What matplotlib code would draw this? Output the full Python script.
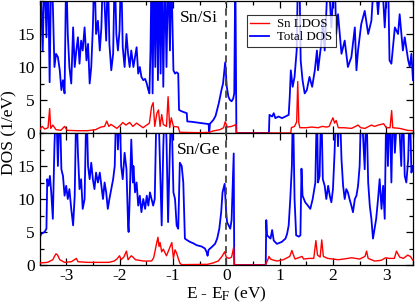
import matplotlib
matplotlib.use("Agg")
import matplotlib.pyplot as plt
from matplotlib.ticker import MultipleLocator
import numpy as np

# ---------------- data (E in eV, DOS in 1/eV); values > 20 are off-scale spikes
si_tot_E = [-3.50, -3.49, -3.48, -3.455, -3.44, -3.405, -3.37, -3.34, -3.31, -3.28, -3.25, -3.22,
            -3.19, -3.155, -3.12, -3.09, -3.06, -3.03, -3.00, -2.97, -2.94, -2.905, -2.87, -2.84,
            -2.81, -2.78, -2.75, -2.72, -2.69, -2.655, -2.62, -2.59, -2.56, -2.53, -2.50, -2.47,
            -2.44, -2.405, -2.37, -2.34, -2.31, -2.28, -2.25, -2.22, -2.19, -2.155, -2.12, -2.09,
            -2.06, -2.03, -2.00, -1.97, -1.94, -1.905, -1.87, -1.84, -1.81, -1.78, -1.74, -1.68,
            -1.65, -1.62, -1.59, -1.555, -1.52, -1.49, -1.46, -1.44, -1.42, -1.40, -1.38, -1.355,
            -1.33, -1.305, -1.28, -1.255, -1.23, -1.205, -1.18, -1.15, -1.12, -1.09, -1.055, -1.03,
            -0.99, -0.96, -0.93, -0.90, -0.885, -0.84, -0.775, -0.74, -0.73, -0.65, -0.555, -0.46,
            -0.37, -0.33, -0.32, -0.305, -0.24, -0.20, -0.14, -0.09, -0.06, -0.02, 0.01, 0.04,
            0.07, 0.10, 0.13, 0.15, 0.17, 0.19, 0.80, 0.81, 0.86, 0.89, 0.92, 0.98, 1.045, 1.11,
            1.17, 1.19, 1.21, 1.245, 1.28, 1.32, 1.345, 1.37, 1.395, 1.43, 1.47, 1.51, 1.56, 1.61,
            1.66, 1.70, 1.72, 1.78, 1.81, 1.845, 1.91, 1.97, 2.03, 2.06, 2.095, 2.16, 2.22, 2.28,
            2.345, 2.41, 2.44, 2.47, 2.53, 2.595, 2.66, 2.72, 2.78, 2.845, 2.91, 2.97, 3.03, 3.06,
            3.095, 3.16, 3.22, 3.25, 3.31, 3.345, 3.41, 3.44, 3.47, 3.50]
si_tot_D = [4.5, 10, 25, 17, 12.5, 25, 14.5, 25, 7.7, 25, 19.5, 10,
            12, 11.5, 9.5, 6.5, 8, 6, 25, 15, 10, 7.5, 16, 10,
            12.5, 14.5, 10.5, 14, 12.5, 16, 11, 13.5, 7.5, 10, 16, 25,
            15, 17, 12.5, 16, 25, 19.5, 14, 25, 13.5, 9.5, 12, 25,
            15, 12.5, 15.5, 25, 13, 10, 15, 12, 10, 12.5, 10, 13,
            9, 10, 8.5, 8, 8.2, 7.5, 6.5, 6, 12.5, 25, 6, 25,
            10, 25, 8, 25, 9, 25, 7, 25, 10, 25, 12.5, 25,
            9.5, 9, 9.2, 9, 3.5, 3.3, 3.1, 3.0, 1.75, 1.7, 1.6, 1.5,
            1.4, 1.35, 0, 1.4, 2.0, 2.6, 4.5, 6.5, 7.5, 10.7, 7, 5.5,
            5, 4.8, 5.2, 6, 25, 0, 0, 2.75, 2.5, 3, 2.25, 2.5, 2.25, 2.5,
            2.75, 5.5, 9.5, 7, 8.5, 12.5, 25, 25, 11, 8, 6, 6.5, 8.5, 7,
            9.5, 12.5, 9.5, 13.5, 17, 12.5, 25, 16, 25, 15, 18, 12, 14, 10,
            11.5, 16, 9.5, 12.5, 16.5, 18.5, 15, 17, 25, 18, 25, 16, 25, 11,
            10.5, 16, 15, 18, 12.5, 14.5, 11, 10, 12, 8]

si_sn_E = [-3.50, -3.45, -3.40, -3.34, -3.31, -3.29, -3.25, -3.19, -3.10, -3.03, -2.98, -2.80,
           -2.60, -2.45, -2.35, -2.28, -2.24, -2.20, -2.16, -2.05, -1.97, -1.94, -1.88, -1.81,
           -1.75, -1.68, -1.56, -1.44, -1.40, -1.37, -1.34, -1.30, -1.27, -1.24, -1.21, -1.18,
           -1.12, -1.09, -1.06, -1.03, -0.99, -0.90, -0.87, -0.50, -0.32, -0.25, -0.12, -0.05,
           -0.02, 0.02, 0.10, 0.16, 0.18, 0.19, 1.21, 1.22, 1.28, 1.32, 1.34, 1.36, 1.38, 1.50,
           1.60, 1.72, 1.80, 1.88, 1.93, 1.97, 2.00, 2.03, 2.06, 2.10, 2.20, 2.35, 2.47, 2.52,
           2.60, 2.72, 2.78, 2.85, 2.95, 3.00, 3.07, 3.10, 3.12, 3.25, 3.40, 3.50]
si_sn_D = [0.5, 1.0, 0.6, 0.8, 3.7, 0.7, 1.2, 0.5, 0.4, 1.0, 0.4, 0.35,
           0.35, 0.5, 0.9, 1.0, 1.8, 1.0, 1.3, 0.7, 1.3, 1.6, 1.2, 1.6,
           1.0, 1.5, 0.8, 1.5, 4.0, 4.6, 1.0, 3.0, 3.5, 1.0, 2.8, 1.3,
           1.0, 5.5, 0.8, 2.3, 1.0, 0.9, 0.1, 0.05, 0.1, 0.3, 0.5, 0.8,
           1.7, 0.9, 1.0, 1.2, 1.3, 0, 0, 0.8, 1.0, 1.7, 7.8, 1.5, 0.8, 0.8,
           0.9, 0.8, 1.0, 0.9, 1.0, 1.8, 2.3, 1.5, 1.9, 0.8, 0.8, 0.7, 1.2, 0.8,
           0.7, 1.2, 1.0, 1.2, 1.4, 0.8, 0.8, 3.4, 0.8, 0.7, 0.4, 0.35]

ge_tot_E = [-3.50, -3.47, -3.405, -3.37, -3.355, -3.33, -3.305, -3.28, -3.25, -3.22, -3.19, -3.155,
            -3.12, -3.09, -3.06, -3.03, -3.00, -2.97, -2.94, -2.905, -2.87, -2.84, -2.81, -2.78,
            -2.75, -2.72, -2.69, -2.655, -2.62, -2.59, -2.56, -2.53, -2.50, -2.47, -2.44, -2.405,
            -2.37, -2.34, -2.31, -2.28, -2.25, -2.22, -2.19, -2.155, -2.12, -2.09, -2.06, -2.03,
            -2.00, -1.97, -1.94, -1.905, -1.87, -1.84, -1.83, -1.81, -1.78, -1.75, -1.74, -1.71,
            -1.68, -1.65, -1.62, -1.59, -1.555, -1.52, -1.49, -1.46, -1.43, -1.40, -1.37, -1.34,
            -1.305, -1.275, -1.24, -1.21, -1.18, -1.15, -1.12, -1.09, -1.055, -1.03, -0.99, -0.96,
            -0.93, -0.90, -0.87, -0.835, -0.805, -0.775, -0.74, -0.68, -0.62, -0.555, -0.46, -0.40,
            -0.37, -0.35, -0.33, -0.275, -0.21, -0.17, -0.13, -0.095, -0.07, -0.03, -0.005, 0.015,
            0.045, 0.075, 0.10, 0.14, 0.15, 0.74, 0.75, 0.765, 0.83, 0.86, 0.89, 0.95, 1.04, 1.11,
            1.14, 1.17, 1.20, 1.23, 1.25, 1.28, 1.31, 1.36, 1.39, 1.41, 1.43, 1.48, 1.53, 1.575,
            1.62, 1.67, 1.70, 1.72, 1.75, 1.78, 1.81, 1.845, 1.875, 1.91, 1.94, 1.97, 2.00, 2.03,
            2.06, 2.095, 2.125, 2.16, 2.19, 2.22, 2.25, 2.28, 2.31, 2.345, 2.375, 2.41, 2.44, 2.47,
            2.50, 2.53, 2.595, 2.625, 2.66, 2.69, 2.72, 2.75, 2.78, 2.81, 2.845, 2.875, 2.91, 2.94,
            2.97, 3.00, 3.03, 3.06, 3.095, 3.125, 3.16, 3.22, 3.28, 3.31, 3.345, 3.375, 3.41, 3.44,
            3.47, 3.50]
ge_tot_D = [4, 4.7, 5, 5.5, 13, 12, 13.5, 11, 7, 18, 25, 15,
            25, 14.5, 13.5, 10.5, 12, 10, 11.5, 8.5, 6, 10.5, 25, 17,
            11.5, 13, 8.5, 10, 25, 15, 13, 15.5, 13, 11.5, 14, 12.5,
            14, 12, 10, 12.5, 11, 8.5, 10, 11.5, 13, 15, 25, 17.5,
            25, 15, 13, 17, 14.5, 6, 5, 10, 19, 12.5, 15, 11,
            12.5, 9, 10.5, 8, 10, 8.5, 10.5, 9, 11, 10, 9, 10,
            25, 25, 15, 6, 18, 25, 19, 6.5, 18, 25, 11, 10,
            6, 5.5, 15.5, 15, 12.5, 4, 3.8, 3.5, 3.3, 3.0, 2.8, 2.5,
            2.0, 1.4, 2.3, 2.7, 3.2, 4, 5.5, 8, 11, 12.3, 8.5, 6.5,
            6, 5.5, 6.8, 16.9, 0, 0, 6.8, 4.5, 4, 5.3, 3.7, 3.2, 3.5, 4,
            4.7, 6, 10, 15, 25, 10, 4.5, 4.3, 4.5, 14.6, 10.5, 9.5, 9, 8.5,
            10, 12.5, 25, 12.5, 13.5, 25, 13, 12, 10, 12, 10.5, 9.5, 11.5, 17,
            25, 18, 25, 16, 12, 10, 11.5, 11, 10, 9, 8, 10, 10.5, 12,
            15, 25, 14.5, 25, 12.5, 9, 7, 4, 5.5, 7, 10, 13, 8.5, 12,
            7, 25, 15, 25, 12.5, 25, 17, 25, 15, 25, 13.5, 12.5, 16, 25,
            14, 15]

ge_sn_E = [-3.50, -3.35, -3.25, -3.22, -3.19, -3.16, -3.12, -3.03, -2.90, -2.81, -2.78, -2.60,
           -2.40, -2.20, -2.10, -2.05, -2.00, -1.97, -1.92, -1.87, -1.84, -1.78, -1.75, -1.70,
           -1.55, -1.40, -1.36, -1.30, -1.28, -1.26, -1.24, -1.21, -1.18, -1.12, -1.02, -0.99,
           -0.96, -0.93, -0.90, -0.87, -0.84, -0.35, -0.25, -0.15, -0.08, -0.03, 0.00, 0.05,
           0.10, 0.14, 0.15, 0.73, 0.75, 0.78, 0.80, 0.83, 0.86, 0.95, 1.07, 1.19, 1.23, 1.26,
           1.29, 1.42, 1.45, 1.55, 1.64, 1.68, 1.71, 1.76, 1.79, 1.82, 1.90, 2.00, 2.10, 2.20,
           2.35, 2.50, 2.60, 2.63, 2.66, 2.78, 2.90, 2.99, 3.05, 3.15, 3.19, 3.25, 3.32, 3.40,
           3.45, 3.50]
ge_sn_D = [0.3, 0.4, 0.8, 1.3, 1.7, 1.5, 0.8, 0.4, 0.5, 1.0, 0.5, 0.4,
           0.4, 0.4, 0.6, 0.9, 1.4, 0.8, 1.2, 2.1, 0.8, 1.4, 1.2, 0.8,
           0.6, 0.6, 1.1, 3.5, 4.2, 2.8, 3.4, 2.0, 2.4, 1.4, 3.4, 1.0,
           2.3, 1.8, 1.0, 0.3, 0.05, 0.1, 0.3, 0.6, 1.3, 2.0, 1.2, 1.0,
           1.2, 2.7, 0.0, 0.0, 0.3, 0.8, 1.3, 0.9, 0.8, 0.6, 0.8, 1.3, 2.2, 1.5,
           0.9, 1.3, 0.9, 1.0, 1.0, 3.7, 1.5, 1.2, 3.8, 1.3, 1.0, 0.9, 0.8, 0.9,
           1.1, 0.9, 1.3, 2.1, 1.0, 0.6, 0.7, 1.1, 1.0, 1.0, 2.1, 1.2, 1.0, 1.5,
           1.3, 0.7]

panel_labels = ["Sn/Si", "Sn/Ge"]
legend_labels = ["Sn LDOS", "Total DOS"]
yticks = [0, 5, 10, 15]
xticks = [-3, -2, -1, 0, 1, 2, 3]

# ---------------- figure
plt.rcParams['font.family'] = ['Liberation Serif', 'DejaVu Serif']
plt.rcParams['mathtext.fontset'] = 'stix'
W, H = 415, 306
fig = plt.figure(figsize=(W / 100, H / 100), dpi=100)
left, right = 39.5 / W, 413 / W
ax_top = fig.add_axes([left, 1 - 133 / H, right - left, 132 / H])
ax_bot = fig.add_axes([left, 1 - 265 / H, right - left, 132 / H])

data = [(si_tot_E, si_tot_D, si_sn_E, si_sn_D), (ge_tot_E, ge_tot_D, ge_sn_E, ge_sn_D)]
for ax, (tE, tD, sE, sD), lab in zip([ax_top, ax_bot], data, panel_labels):
    l1, = ax.plot(sE, sD, color='#ff0000', lw=1.0, zorder=3)
    l2, = ax.plot(tE, tD, color='#0000ff', lw=1.3, zorder=2)
    ax.axvline(0, color='#444444', lw=1.3, ls=(0, (4, 2.5)), zorder=4)
    ax.set_xlim(-3.5, 3.5)
    ax.set_ylim(0, 20)
    ax.set_yticks(yticks)
    ax.set_xticks(xticks)
    ax.xaxis.set_minor_locator(MultipleLocator(0.5))
    ax.yaxis.set_minor_locator(MultipleLocator(2.5))
    ax.tick_params(which='both', direction='in', top=True, right=True, labelsize=12.5, width=0.9)
    ax.tick_params(which='major', length=5)
    ax.tick_params(which='minor', length=3)
    for s in ax.spines.values():
        s.set_linewidth(0.9)
    ax.text(-0.52, 17.4, lab, fontsize=12.5, ha='center', va='center', zorder=5)
    if ax is ax_top:
        handles = [l1, l2]
        ax.set_xticklabels([])

leg = ax_top.legend(handles, legend_labels, loc='upper left', bbox_to_anchor=(0.555, 0.895),
                    fontsize=9.3, frameon=True, fancybox=False, edgecolor='black',
                    handlelength=1.5, handletextpad=0.6, borderpad=0.25, labelspacing=0.1,
                    borderaxespad=0)
leg.get_frame().set_linewidth(0.8)

ax_bot.set_xticklabels([str(t) for t in xticks])
ax_bot.tick_params(axis='x', pad=2.5)
fig.text(226 / W, 1 - 298 / H, r'E - E$_\mathrm{F}$ (eV)', fontsize=12.5, ha='center', va='baseline')
fig.text(9 / W, 1 - 133 / H, 'DOS (1/eV)', rotation=90, fontsize=12.5, ha='center', va='center')

fig.savefig('out.png', dpi=100)
